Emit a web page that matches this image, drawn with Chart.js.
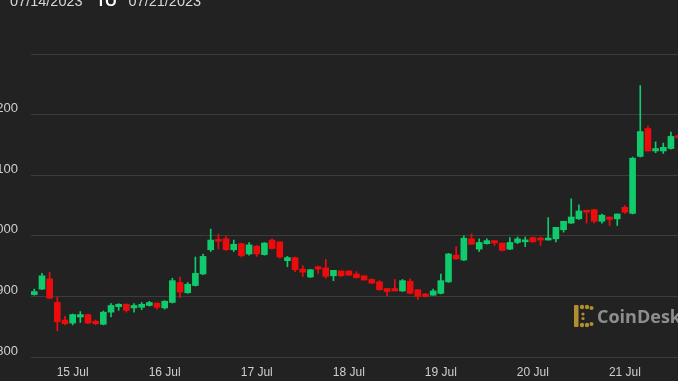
<!DOCTYPE html>
<html><head><meta charset="utf-8">
<script src="https://cdn.jsdelivr.net/npm/chart.js@4"></script>
<style>
html,body{margin:0;padding:0;background:#222222;width:678px;height:381px;overflow:hidden;position:relative;font-family:"Liberation Sans",Arial,sans-serif}
#c{position:absolute;left:0;top:0}
#title{position:absolute;left:10px;top:-6px;font-size:14.5px;line-height:14.5px;color:#d8d8d8;white-space:nowrap}
#title b{color:#ffffff;margin:0 8px 0 10px}
#brand{position:absolute;left:574px;top:304px;height:24px;white-space:nowrap}
#brand svg{position:absolute;left:0;top:0}
#brand span{position:absolute;left:23px;top:0px;font-family:"Open Sans",sans-serif;font-weight:700;font-size:18px;line-height:24px;color:#8e8e8e}
</style></head>
<body>
<canvas id="c" width="678" height="381"></canvas>
<div id="title">07/14/2023 <b>TO</b> 07/21/2023</div>
<div id="brand"><svg width="20" height="24" viewBox="0 0 20 24"><g fill="#b38e2e"><rect x="0" y="1" width="4.5" height="22" rx="1"/><circle cx="8" cy="3" r="2.2"/><circle cx="13" cy="3" r="2.2"/><circle cx="17.5" cy="4" r="2"/><circle cx="8" cy="21" r="2.2"/><circle cx="13" cy="21" r="2.2"/><circle cx="17.5" cy="20" r="2"/><circle cx="9" cy="10" r="1.6"/><circle cx="9" cy="14.5" r="1.6"/></g></svg><span>CoinDesk</span></div>
<script>
// 2-hour candles starting 14 Jul 2023 14:00 (hours counted from 14 Jul 00:00)
const firstHour = 14;
const stepHours = 2;
const opens  = [903,912,929,890,861,856,866,870,859,854,874,883,887,881,882,885,889,881,890,923,906,918,937,977,994,995,977,987,970,983,969,993,990,959,964,945,932,949,947,934,942,942,937,934,928,924,913,913,909,925,911,904,902,905,924,968,960,995,978,987,992,988,978,989,990,997,996,993,995,1010,1021,1028,1042,1043,1024,1031,1028,1047,1037,1131,1177,1140,1140,1144,1165];
const highs  = [912,938,940,899,867,871,875,871,861,876,888,888,888,888,890,892,889,893,930,932,923,965,970,1011,1003,999,993,988,989,984,989,995,990,966,965,951,945,950,961,943,942,942,941,934,929,926,913,928,928,929,911,905,912,937,971,982,1000,1003,995,995,992,988,997,998,998,998,998,1030,1014,1024,1061,1051,1042,1044,1036,1031,1036,1050,1130,1248,1181,1155,1153,1171,1167];
const lows   = [902,911,896,843,853,853,857,855,853,853,866,877,874,874,878,884,879,879,889,898,905,917,936,974,978,976,974,965,968,966,968,978,963,949,941,933,931,938,930,926,933,935,930,927,921,910,901,909,908,904,895,899,902,904,923,961,959,986,974,986,984,975,977,987,982,989,984,993,990,1006,1020,1027,1021,1021,1021,1017,1017,1037,1036,1130,1140,1137,1136,1143,1160];
const closes = [908,934,897,858,855,870,870,856,855,874,885,887,877,885,887,890,882,892,926,907,920,938,966,993,991,977,986,967,985,970,988,979,965,964,944,940,944,945,933,943,934,935,931,927,922,911,908,909,926,905,900,900,909,926,970,962,996,986,989,992,988,976,989,995,993,990,993,996,1014,1024,1031,1041,1039,1024,1034,1027,1036,1039,1128,1172,1140,1144,1146,1164,1162];
const yTickValues = [800,900,1000,1100,1200,1300];
const xTickHours  = [24,48,72,96,120,144,168];
const xTickLabels = ['15 Jul','16 Jul','17 Jul','18 Jul','19 Jul','20 Jul','21 Jul'];

const UP = '#0fcb6b', DOWN = '#ec0c0c';
const xs = opens.map((o,i)=>firstHour + i*stepHours);
const cols = opens.map((o,i)=> closes[i] >= o ? UP : DOWN);

new Chart(document.getElementById('c'), {
  type: 'bar',
  data: {
    datasets: [
      { label:'wick', data: xs.map((x,i)=>({x:x, y:[lows[i], highs[i]]})), backgroundColor: cols, barThickness: 1, grouped:false, order:2 },
      { label:'body', data: xs.map((x,i)=>({x:x, y:[opens[i], closes[i]]})), backgroundColor: cols, barThickness: 6, grouped:false, minBarLength:2, order:1 }
    ]
  },
  options: {
    responsive:false, animation:false, devicePixelRatio:1,
    layout:{padding:{top:54,left:0,right:0,bottom:0}},
    plugins:{legend:{display:false}, tooltip:{enabled:false}},
    scales:{
      x:{
        type:'linear', min:13.14, max:181.84, offset:false,
        grid:{display:false, drawTicks:false}, border:{display:false},
        afterBuildTicks:(s)=>{ s.ticks = xTickHours.map(v=>({value:v})); },
        afterFit:(s)=>{ s.height = 24; },
        ticks:{ autoSkip:false, maxRotation:0, padding:8, color:'#cfcfcf', font:{family:'"Liberation Sans", Arial, sans-serif', size:12},
          callback:(v)=>{ const k = xTickHours.indexOf(v); return k>=0 ? xTickLabels[k] : ''; } }
      },
      y:{
        type:'linear', min:800, max:1300,
        grid:{color:'#3c3c3c', lineWidth:1, drawTicks:false}, border:{display:false},
        afterBuildTicks:(s)=>{ s.ticks = yTickValues.map(v=>({value:v})); },
        afterFit:(s)=>{ s.width = 31; },
        ticks:{ padding:13, labelOffset:-6, color:'#cfcfcf', font:{family:'"Liberation Sans", Arial, sans-serif', size:13},
          callback:(v)=> v===1300 ? '' : v.toLocaleString('en-US') }
      }
    }
  }
});
</script>
</body></html>
